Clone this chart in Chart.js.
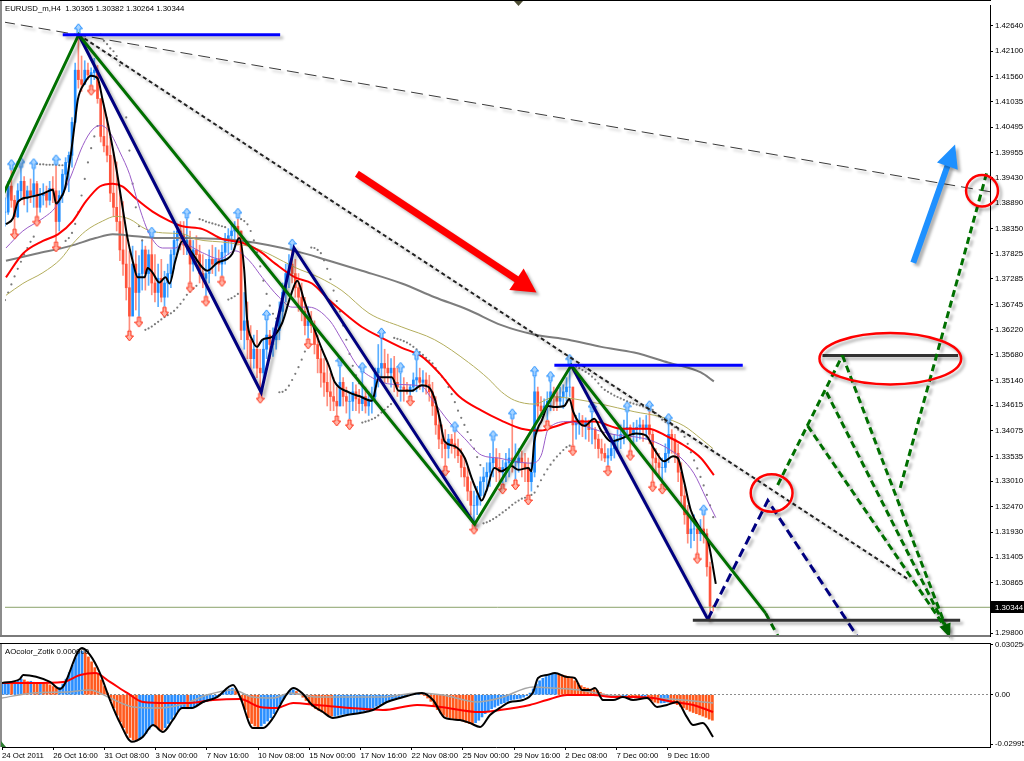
<!DOCTYPE html>
<html>
<head>
<meta charset="utf-8">
<title>EURUSD_m,H4</title>
<script src="https://cdn.jsdelivr.net/npm/chart.js@4.4.1/dist/chart.umd.min.js"></script>
<style>
html,body{margin:0;padding:0;background:#ffffff;overflow:hidden;}
#main{position:absolute;left:0;top:0;}
#osc{position:absolute;left:0;top:638px;}
</style>
</head>
<body>
<canvas id="main" width="1024" height="641"></canvas>
<canvas id="osc" width="1024" height="123"></canvas>
<script>
const FONT = '"Liberation Sans", Arial, sans-serif';
const FSIZE = 7.8;

// ---------- text / axes ----------
const symbolName = 'EURUSD_m,H4';
const lastOHLC = [1.30365, 1.30382, 1.30264, 1.30344];
const indicatorName = 'AOcolor_Zotik';
const indicatorValue = '0.000000';
const xLabelIdx = [0,16,32,48,64,80,96,112,128,144,160,176,192,208];
const xLabels = ['24 Oct 2011','26 Oct 16:00','31 Oct 08:00','3 Nov 00:00','7 Nov 16:00','10 Nov 08:00','15 Nov 00:00','17 Nov 16:00','22 Nov 08:00','25 Nov 00:00','29 Nov 16:00','2 Dec 08:00','7 Dec 00:00','9 Dec 16:00'];
const priceTicks = [1.42640,1.42100,1.41560,1.41035,1.40495,1.39955,1.39430,1.38890,1.38350,1.37825,1.37285,1.36745,1.36220,1.35680,1.35140,1.34615,1.34075,1.33535,1.33010,1.32470,1.31930,1.31405,1.30865,1.29800];
const oscTicks = [0.030256, 0, -0.02995];
const oscTickLabels = ['0.030256','0.00','-0.02995'];
const priceMin = 1.29737, priceMax = 1.43078;
const oscMin = -0.031774, oscMax = 0.031472;
const barMin = 0, barMax = 308.75;

// ---------- H4 bars (index 0 = 24 Oct 2011 00:00) ----------
const highs = [
1.3900,1.3935,1.3958,1.3905,1.3930,1.3962,1.3945,1.3925,1.3940,1.3960,
1.3935,1.3920,1.3930,1.3925,1.3935,1.3945,1.3968,1.3915,1.3960,1.3985,
1.3997,1.4070,1.4185,1.4245,1.4200,1.4190,1.4185,1.4175,1.4195,1.4180,
1.4101,1.4091,1.4070,1.4028,1.3997,1.3976,1.3913,1.3892,1.3819,1.3788,
1.3798,1.3788,1.3778,1.3809,1.3798,1.3790,1.3815,1.3780,1.3760,1.3770,
1.3745,1.3760,1.3790,1.3830,1.3845,1.3850,1.3850,1.3855,1.3830,1.3810,
1.3820,1.3800,1.3780,1.3770,1.3790,1.3800,1.3795,1.3790,1.3800,1.3825,
1.3835,1.3845,1.3850,1.3855,1.3830,1.3700,1.3680,1.3630,1.3610,1.3620,
1.3580,1.3600,1.3640,1.3620,1.3625,1.3640,1.3680,1.3720,1.3760,1.3780,
1.3790,1.3770,1.3740,1.3720,1.3690,1.3670,1.3660,1.3640,1.3610,1.3580,
1.3560,1.3550,1.3530,1.3520,1.3500,1.3542,1.3520,1.3500,1.3490,1.3510,
1.3505,1.3495,1.3529,1.3500,1.3490,1.3500,1.3540,1.3590,1.3602,1.3580,
1.3570,1.3560,1.3565,1.3540,1.3529,1.3520,1.3510,1.3505,1.3530,1.3556,
1.3540,1.3535,1.3530,1.3525,1.3510,1.3480,1.3440,1.3420,1.3410,1.3400,
1.3400,1.3404,1.3390,1.3370,1.3350,1.3330,1.3300,1.3280,1.3290,1.3310,
1.3330,1.3340,1.3360,1.3385,1.3370,1.3360,1.3345,1.3360,1.3370,1.3431,
1.3380,1.3370,1.3365,1.3360,1.3350,1.3340,1.3521,1.3500,1.3480,1.3475,
1.3490,1.3510,1.3500,1.3495,1.3500,1.3505,1.3520,1.3546,1.3500,1.3440,
1.3445,1.3440,1.3435,1.3430,1.3445,1.3415,1.3400,1.3390,1.3380,1.3370,
1.3385,1.3400,1.3410,1.3420,1.3430,1.3446,1.3420,1.3425,1.3430,1.3435,
1.3430,1.3440,1.3448,1.3410,1.3370,1.3360,1.3350,1.3380,1.3421,1.3410,
1.3400,1.3380,1.3340,1.3290,1.3250,1.3220,1.3230,1.3210,1.3220,1.3228,
1.3200,1.3130,1.30382];
const lows = [
1.3840,1.3865,1.3880,1.3836,1.3858,1.3900,1.3885,1.3870,1.3890,1.3880,
1.3863,1.3870,1.3885,1.3880,1.3885,1.3890,1.3809,1.3830,1.3890,1.3920,
1.3913,1.3965,1.4059,1.4132,1.4125,1.4150,1.4150,1.4140,1.4150,1.4100,
1.4018,1.3997,1.3976,1.3892,1.3861,1.3830,1.3767,1.3736,1.3684,1.3621,
1.3684,1.3663,1.3650,1.3705,1.3705,1.3715,1.3695,1.3680,1.3670,1.3680,
1.3671,1.3690,1.3710,1.3750,1.3780,1.3790,1.3780,1.3780,1.3723,1.3745,
1.3760,1.3720,1.3710,1.3694,1.3720,1.3740,1.3735,1.3745,1.3736,1.3760,
1.3780,1.3790,1.3790,1.3800,1.3600,1.3580,1.3560,1.3530,1.3540,1.3520,
1.3489,1.3510,1.3560,1.3560,1.3565,1.3580,1.3600,1.3640,1.3680,1.3710,
1.3720,1.3690,1.3660,1.3640,1.3610,1.3604,1.3615,1.3570,1.3530,1.3500,
1.3480,1.3460,1.3450,1.3450,1.3441,1.3460,1.3460,1.3445,1.3433,1.3450,
1.3450,1.3445,1.3450,1.3445,1.3440,1.3445,1.3470,1.3500,1.3520,1.3510,
1.3510,1.3500,1.3490,1.3480,1.3470,1.3470,1.3485,1.3483,1.3490,1.3490,
1.3495,1.3490,1.3485,1.3470,1.3440,1.3400,1.3370,1.3350,1.3335,1.3350,
1.3360,1.3350,1.3340,1.3310,1.3290,1.3260,1.3230,1.3212,1.3230,1.3250,
1.3270,1.3280,1.3290,1.3310,1.3300,1.3300,1.3297,1.3300,1.3310,1.3320,
1.3306,1.3320,1.3310,1.3300,1.3274,1.3280,1.3310,1.3430,1.3440,1.3445,
1.3431,1.3450,1.3450,1.3450,1.3460,1.3455,1.3470,1.3480,1.3378,1.3390,
1.3400,1.3395,1.3390,1.3385,1.3380,1.3370,1.3350,1.3345,1.3342,1.3335,
1.3345,1.3350,1.3360,1.3370,1.3380,1.3390,1.3368,1.3380,1.3385,1.3390,
1.3385,1.3390,1.3380,1.3302,1.3320,1.3310,1.3297,1.3320,1.3340,1.3360,
1.3340,1.3300,1.3250,1.3210,1.3170,1.3160,1.3175,1.3150,1.3175,1.3170,
1.3100,1.3005,1.30264];
const closes = [
1.3870,1.3925,1.3895,1.3860,1.3915,1.3935,1.3900,1.3915,1.3905,1.3930,
1.3880,1.3905,1.3910,1.3895,1.3920,1.3915,1.3850,1.3905,1.3950,1.3975,
1.3990,1.4060,1.4170,1.4150,1.4140,1.4170,1.4160,1.4165,1.4170,1.4110,
1.4030,1.4010,1.3990,1.3910,1.3880,1.3850,1.3790,1.3760,1.3710,1.3650,
1.3760,1.3700,1.3740,1.3790,1.3740,1.3780,1.3720,1.3700,1.3730,1.3690,
1.3720,1.3740,1.3780,1.3810,1.3830,1.3820,1.3800,1.3810,1.3760,1.3790,
1.3780,1.3740,1.3730,1.3740,1.3770,1.3760,1.3770,1.3760,1.3785,1.3810,
1.3820,1.3830,1.3840,1.3830,1.3620,1.3640,1.3600,1.3560,1.3580,1.3540,
1.3530,1.3580,1.3610,1.3590,1.3600,1.3620,1.3660,1.3700,1.3740,1.3760,
1.3740,1.3710,1.3690,1.3660,1.3630,1.3640,1.3630,1.3590,1.3560,1.3530,
1.3510,1.3490,1.3480,1.3470,1.3460,1.3510,1.3480,1.3470,1.3470,1.3490,
1.3475,1.3465,1.3480,1.3460,1.3470,1.3480,1.3530,1.3540,1.3550,1.3540,
1.3530,1.3540,1.3510,1.3500,1.3500,1.3495,1.3490,1.3500,1.3515,1.3520,
1.3510,1.3515,1.3505,1.3490,1.3460,1.3420,1.3390,1.3380,1.3370,1.3390,
1.3380,1.3370,1.3355,1.3330,1.3310,1.3280,1.3250,1.3250,1.3270,1.3300,
1.3310,1.3320,1.3340,1.3350,1.3330,1.3320,1.3330,1.3340,1.3350,1.3340,
1.3340,1.3350,1.3340,1.3330,1.3300,1.3320,1.3490,1.3460,1.3450,1.3460,
1.3470,1.3490,1.3480,1.3470,1.3480,1.3490,1.3500,1.3500,1.3420,1.3425,
1.3430,1.3420,1.3425,1.3410,1.3410,1.3390,1.3370,1.3360,1.3350,1.3355,
1.3370,1.3385,1.3390,1.3400,1.3410,1.3415,1.3400,1.3410,1.3415,1.3420,
1.3410,1.3420,1.3400,1.3350,1.3340,1.3330,1.3330,1.3360,1.3400,1.3390,
1.3360,1.3320,1.3270,1.3230,1.3190,1.3200,1.3200,1.3190,1.3200,1.3190,
1.3120,1.30365,1.30344];
// Parabolic SAR, one value per bar
const sar = [
1.3684,1.3700,1.3717,1.3734,1.3750,1.3765,1.3780,1.3794,1.3807,1.3818,
1.3972,1.3971,1.3971,1.3970,1.3970,1.3970,1.3970,1.3969,1.3969,
1.3809,1.3815,1.3826,1.3845,1.3870,1.3905,1.3940,1.3975,1.4005,1.4030,1.4052,
1.4245,1.4232,1.4225,1.4216,1.4210,1.4200,1.4180,1.4130,1.4070,1.4000,1.3930,1.3880,1.3840,1.3810,
1.3621,1.3624,1.3628,1.3633,1.3638,1.3643,1.3648,1.3652,1.3656,1.3661,1.3668,1.3676,1.3685,1.3695,
1.3702,1.3708,1.3714,
1.3855,1.3853,1.3850,1.3848,1.3846,1.3844,1.3842,1.3840,1.3838,
1.3685,1.3688,1.3692,1.3697,
1.3855,1.3851,1.3844,1.3830,1.3810,1.3785,1.3755,1.3725,1.3697,1.3672,1.3655,1.3645,
1.3489,1.3490,1.3494,1.3503,1.3515,1.3528,1.3542,1.3558,1.3575,1.3590,
1.3795,1.3794,1.3790,1.3783,1.3768,1.3750,1.3728,1.3704,1.3682,1.3660,1.3630,1.3600,1.3570,1.3545,1.3525,1.3508,
1.3425,1.3427,1.3429,1.3432,1.3435,1.3440,1.3446,1.3452,1.3458,1.3464,
1.3604,1.3602,1.3600,1.3597,1.3594,1.3590,1.3585,1.3580,1.3574,1.3568,1.3562,1.3556,1.3550,1.3540,
1.3530,1.3522,1.3515,1.3500,1.3485,1.3468,1.3450,1.3435,1.3420,1.3405,1.3388,1.3370,1.3352,1.3335,
1.3212,1.3214,1.3217,1.3221,1.3225,1.3230,1.3235,1.3240,1.3245,1.3251,1.3256,1.3260,1.3264,1.3266,
1.3268,1.3272,1.3277,1.3290,1.3303,1.3315,1.3326,1.3336,1.3345,1.3353,1.3360,1.3367,1.3373,1.3376,
1.3546,1.3543,1.3540,1.3536,1.3532,1.3528,1.3522,1.3516,1.3508,1.3500,1.3494,1.3490,
1.3486,1.3482,1.3479,1.3476,1.3473,1.3470,1.3467,1.3465,1.3463,1.3461,1.3459,1.3457,1.3455,
1.3452,1.3445,1.3438,1.3431,1.3426,1.3424,1.3420,1.3415,1.3410,1.3405,1.3395,1.3380,1.3362,1.3345,1.3328,1.3310,1.3292,1.3272,1.3250,1.3225];

// fractal bars
const upFractals = [2,5,9,16,23,46,57,73,82,90,105,112,118,124,129,141,153,159,166,171,177,184,195,202,208,219];
const downFractals = [3,10,16,27,39,42,50,58,63,68,80,95,104,108,127,138,147,156,160,164,170,178,189,196,203,206,217];

// ---------- moving averages (bar index, price) ----------
const maGrayIdx = [0.3,9.7,20.3,28.4,33.75,40.9,49.4,55.6,74.4,90.9,101.6,111.9,124.4,134.7,145.3,155.6,165.9,176.6,186.9,197.2,207.8,218.1,222.2];
const maGray = [1.3767,1.3782,1.3798,1.3815,1.3823,1.3819,1.3815,1.3815,1.3809,1.3788,1.3767,1.3746,1.3719,1.3690,1.3663,1.3631,1.3611,1.3600,1.3585,1.3573,1.3552,1.3531,1.3512];
const maOliveIdx = [0.3,5.6,11.9,17.5,21.25,25.3,30.6,34.7,39.1,44.1,49.4,55.6,59.7,70.3,78.4,83.75,90.9,98.4,105.6,114.1,124.4,134.7,145.3,151.6,155.6,159.7,165.9,172.2,178.4,186.9,197.2,205.6,212.8,218.1,221.9];
const maOlive = [1.3694,1.3719,1.3742,1.3771,1.3803,1.3830,1.3851,1.3861,1.3855,1.3834,1.3826,1.3824,1.3813,1.3805,1.3794,1.3778,1.3753,1.3732,1.3704,1.3656,1.3627,1.3600,1.3552,1.3517,1.3490,1.3472,1.3464,1.3479,1.3475,1.3464,1.3448,1.3437,1.3418,1.3391,1.3370];
const maRedIdx = [0.3,5.6,11.9,16.6,21.25,25.3,29.7,33.75,36.9,40.9,46.25,51.6,55.6,61.9,68.1,74.4,79.7,84.7,90.9,96.25,101.6,107.8,111.9,118.1,124.4,130.6,135.9,142.2,149.4,155.6,161.9,168.1,172.2,178.4,184.7,193.1,201.6,207.8,212.8,218.1,222.2];
const maRed = [1.3732,1.3782,1.3809,1.3823,1.3851,1.3892,1.3924,1.3930,1.3924,1.3899,1.3871,1.3851,1.3840,1.3834,1.3813,1.3805,1.3788,1.3761,1.3732,1.3719,1.3684,1.3648,1.3627,1.3604,1.3583,1.3565,1.3531,1.3481,1.3450,1.3429,1.3412,1.3408,1.3416,1.3427,1.3427,1.3412,1.3412,1.3395,1.3377,1.3350,1.3314];
const maPurpleIdx = [0.3,5.6,11.9,16,20.3,24.4,27.5,30,32.8,36,39.1,42.2,45.3,49.4,53.4,55.6,61.9,67.2,72.2,76.6,80.6,85.9,90,95.3,101.6,106,110.5,115.9,121.25,130.6,133.75,139.1,144.1,149.4,154.7,159.7,165,168.1,170.3,176.6,181.6,186.9,192.2,197.2,202.5,207.8,211.9,215.9,219.7,222.8];
const maPurple = [1.3794,1.3830,1.3857,1.3882,1.3940,1.4011,1.4045,1.4053,1.4039,1.3997,1.3949,1.3878,1.3823,1.3794,1.3794,1.3803,1.3784,1.3771,1.3788,1.3767,1.3732,1.3690,1.3669,1.3669,1.3642,1.3595,1.3545,1.3517,1.3506,1.3502,1.3475,1.3427,1.3391,1.3356,1.3350,1.3343,1.3339,1.3356,1.3412,1.3427,1.3418,1.3406,1.3398,1.3395,1.3387,1.3370,1.3350,1.3318,1.3266,1.3224];
const maBlackIdx = [0.3,2.5,4.1,7.2,11.9,15,16,17.2,18.75,20.3,21.9,22.8,25,26.9,29,30.6,32.8,34.7,36.9,38.4,40,41.6,43.75,44.7,46.25,48.4,50.3,51.6,53.4,55.6,58.75,63.4,66.6,69.7,71.25,73.4,75,75.9,77.5,79,80.6,83.75,86.9,89.4,91.6,93.75,96.25,99.4,101.6,103.4,107.8,111,115,117.2,121.25,123.4,127.5,130.6,132.8,134.7,136.25,137.8,140.9,144.1,146.25,148.4,149.4,150.9,153.4,155.6,158.75,160.9,164,165,165.9,167.2,168.1,170.3,172.2,175.3,176.9,178.1,179.7,181.6,184.7,186.9,190,193.1,197.8,200.9,203.4,206.6,209.4,210.9,212.8,215,218.1,220.3,222.8];
const maBlack = [1.3844,1.3857,1.3892,1.3901,1.3909,1.3917,1.3888,1.3897,1.3919,1.3976,1.4059,1.4107,1.4143,1.4158,1.4153,1.4107,1.4039,1.3970,1.3878,1.3815,1.3767,1.3732,1.3732,1.3752,1.3742,1.3721,1.3732,1.3719,1.3767,1.3809,1.3782,1.3746,1.3763,1.3771,1.3782,1.3815,1.3746,1.3642,1.3600,1.3585,1.3600,1.3606,1.3636,1.3690,1.3725,1.3684,1.3636,1.3579,1.3544,1.3510,1.3489,1.3481,1.3471,1.3521,1.3521,1.3492,1.3492,1.3504,1.3500,1.3475,1.3433,1.3385,1.3375,1.3350,1.3308,1.3272,1.3260,1.3281,1.3329,1.3322,1.3333,1.3325,1.3329,1.3322,1.3385,1.3416,1.3427,1.3460,1.3458,1.3460,1.3475,1.3448,1.3427,1.3418,1.3433,1.3408,1.3385,1.3391,1.3402,1.3398,1.3370,1.3343,1.3354,1.3350,1.3302,1.3239,1.3199,1.3176,1.3084];

// ---------- drawn objects (bar index, price) ----------
const greenZigIdx = [-0.6, 23.1, 147.2, 177.5, 238.4];
const greenZig = [1.3907, 1.4245, 1.3210, 1.3546, 1.3022];
const greenTailIdx = [238.4, 243.1];
const greenTail = [1.3022, 1.2963];
const navyZigIdx = [23.1, 80.3, 90.6, 147.2];
const navyZig = [1.4245, 1.3489, 1.3794, 1.3210];
const navyLegIdx = [177.5, 220.3];
const navyLeg = [1.3546, 1.3009];
const navyProjIdx = [220.3, 239.1, 268.1];
const navyProj = [1.3009, 1.3260, 1.2963];
const topLevelIdx = [18.1, 86.25];
const topLevel = [1.4245, 1.4245];
const midLevelIdx = [172.2, 231.25];
const midLevel = [1.3546, 1.3546];
const targetHighIdx = [256.25, 298.75];
const targetHigh = [1.3567, 1.3567];
const targetLowIdx = [215.6, 299.4];
const targetLow = [1.3007, 1.3007];
const longTrendIdx = [-0.6, 308.75];
const longTrend = [1.4272, 1.3913];
const shortTrendIdx = [23.1, 282.8];
const shortTrend = [1.4245, 1.3095];
const projAIdx = [242.2, 262.5];   const projA = [1.3293, 1.3567];
const projBIdx = [262.5, 295.3];   const projB = [1.3567, 1.2986];
const projCIdx = [257.5, 295.3];   const projC = [1.3489, 1.2986];
const projDIdx = [251.6, 295.3];   const projD = [1.3418, 1.2986];
const projEIdx = [280.6, 307.8];   const projE = [1.3287, 1.3955];
const bidLineIdx = [0, 308.75];
const redArrowIdx = [110.3, 166.6];  const redArrow = [1.3951, 1.3700];
const blueArrowIdx = [284.7, 297.8]; const blueArrow = [1.3763, 1.4013];
const ellipseIdx = [240.3, 277.5, 306.25];
const ellipsePrice = [1.3276, 1.3560, 1.3915];
const ellipseHalfBars = [6.56, 22.2, 5.0];
const ellipseHalfPrice = [0.00397, 0.00543, 0.00334];

// ---------- oscillator ----------
const aoHist = [
0.0065,0.0070,0.0072,0.0070,0.0075,0.0085,0.0095,0.0090,0.0080,0.0082,
0.0076,0.0072,0.0074,0.0070,0.0066,0.0060,0.0050,0.0040,0.0045,0.0065,
0.0095,0.0135,0.0180,0.0225,0.0255,0.0265,0.0255,0.0230,0.0200,0.0165,
0.0130,0.0090,0.0050,0.0010,-0.0035,-0.0080,-0.0125,-0.0165,-0.0200,-0.0235,
-0.0260,-0.0275,-0.0280,-0.0270,-0.0250,-0.0235,-0.0210,-0.0190,-0.0195,-0.0210,
-0.0215,-0.0200,-0.0175,-0.0150,-0.0125,-0.0100,-0.0085,-0.0080,-0.0085,-0.0085,
-0.0075,-0.0065,-0.0050,-0.0045,-0.0040,-0.0032,-0.0025,-0.0015,-0.0005,0.0010,
0.0025,0.0035,0.0040,0.0030,0.0005,-0.0040,-0.0090,-0.0140,-0.0175,-0.0190,
-0.0195,-0.0190,-0.0175,-0.0160,-0.0140,-0.0115,-0.0085,-0.0055,-0.0025,0.0005,
0.0025,0.0030,0.0020,0.0005,-0.0015,-0.0035,-0.0055,-0.0070,-0.0085,-0.0095,
-0.0105,-0.0115,-0.0125,-0.0130,-0.0130,-0.0125,-0.0120,-0.0118,-0.0115,-0.0112,
-0.0110,-0.0108,-0.0105,-0.0100,-0.0095,-0.0090,-0.0080,-0.0070,-0.0060,-0.0050,
-0.0042,-0.0035,-0.0030,-0.0024,-0.0018,-0.0012,-0.0006,-0.0002,0.0002,0.0006,
0.0008,0.0005,-0.0005,-0.0020,-0.0040,-0.0065,-0.0090,-0.0110,-0.0125,-0.0135,
-0.0140,-0.0145,-0.0150,-0.0155,-0.0160,-0.0168,-0.0175,-0.0180,-0.0170,-0.0155,
-0.0135,-0.0115,-0.0100,-0.0085,-0.0075,-0.0065,-0.0055,-0.0048,-0.0040,-0.0032,
-0.0028,-0.0025,-0.0022,-0.0015,-0.0005,0.0010,0.0035,0.0065,0.0085,0.0100,
0.0110,0.0120,0.0125,0.0128,0.0125,0.0120,0.0115,0.0110,0.0100,0.0085,
0.0070,0.0055,0.0045,0.0040,0.0035,0.0032,0.0025,0.0015,0.0005,-0.0005,
-0.0010,-0.0014,-0.0016,-0.0018,-0.0015,-0.0012,-0.0015,-0.0018,-0.0020,-0.0022,
-0.0020,-0.0018,-0.0025,-0.0035,-0.0045,-0.0050,-0.0050,-0.0048,-0.0045,-0.0048,
-0.0052,-0.0060,-0.0070,-0.0080,-0.0090,-0.0100,-0.0108,-0.0115,-0.0122,-0.0130,
-0.0138,-0.0148,-0.0155];
const oscBlackIdx = [0,5.6,6.6,15,18.1,25,27.5,30.6,33.75,36.9,40.6,44,47.2,50.3,53.4,56.25,59.4,62.8,67.2,72.2,74.4,78.4,81.6,84.7,88.4,91,93.75,96.9,100.3,103.4,107.8,111.9,115.9,120.3,124.4,131.25,134.7,138.4,143.1,146.25,149.4,152.5,155.6,158.75,162.8,166,167.5,170.3,172.8,176.6,179,181.25,183.75,185.3,187.8,191,194,197.2,201.6,204.7,207.8,211,214,216,219,222.2];
const oscBlack = [0.0071,0.0096,0.0120,0.0078,0.0035,0.0284,0.0242,0.0132,-0.0032,-0.0172,-0.0286,-0.0256,-0.0184,-0.0226,-0.0153,-0.0080,-0.0080,-0.0044,-0.0014,0.0059,-0.0014,-0.0202,-0.0202,-0.0141,-0.0014,0.0041,0.0011,-0.0062,-0.0105,-0.0141,-0.0123,-0.0111,-0.0093,-0.0044,-0.0020,0.0011,-0.0032,-0.0141,-0.0153,-0.0172,-0.0196,-0.0123,-0.0080,-0.0044,-0.0032,0.0017,0.0102,0.0120,0.0132,0.0108,0.0102,0.0029,0.0029,0.0041,-0.0032,-0.0032,-0.0014,-0.0032,-0.0020,-0.0074,-0.0062,-0.0044,-0.0135,-0.0184,-0.0172,-0.0257];
const oscRedIdx = [0,9.7,19.1,24.4,29.1,33.75,39.1,44.1,51.6,57.8,65.9,74.4,80.6,85.9,91,98.4,108.75,119,129.7,136.9,149.4,155.6,165,170.3,176.6,184.7,191,197.2,203.4,209.7,216,222.2];
const oscRed = [0.0071,0.0071,0.0078,0.0120,0.0132,0.0078,0.0011,-0.0044,-0.0050,-0.0050,-0.0032,-0.0026,-0.0074,-0.0080,-0.0050,-0.0062,-0.0080,-0.0093,-0.0062,-0.0074,-0.0105,-0.0093,-0.0062,-0.0032,-0.0002,-0.0002,-0.0014,-0.0014,-0.0020,-0.0044,-0.0062,-0.0105];
const oscGrayIdx = [0,9.7,20.3,27.5,33.75,41,49.4,57.8,64,72.2,78.4,84.7,90,98.4,108.75,119,129.7,137.8,148.4,155.6,166,172.2,180.6,189,197.2,203.4,212.8,222.2];
const oscGray = [-0.0020,0.0011,0.0017,0.0029,-0.0020,-0.0074,-0.0080,-0.0050,-0.0002,0.0029,-0.0014,-0.0020,0.0011,-0.0014,-0.0014,-0.0014,0.0011,-0.0002,-0.0044,-0.0020,0.0047,0.0041,0.0029,-0.0002,-0.0014,-0.0020,-0.0032,-0.0050];

// ================= building =================
Chart.defaults.font.family = FONT;
Chart.defaults.font.size = FSIZE;
const pts = (xs, ys) => xs.map((v, i) => ({x: v, y: ys[i]}));
const opens = closes.map((c, i) => i === 0 ? c : closes[i - 1]);
const isUp = closes.map((c, i) => c >= opens[i]);

function makeArrowImg(up) {
  const c = document.createElement('canvas');
  c.width = 9; c.height = 24;
  const g = c.getContext('2d');
  g.fillStyle = up ? '#a8d4ff' : '#ffb4a6';
  g.strokeStyle = up ? '#1e8cff' : '#ff2a10';
  g.lineWidth = 1;
  g.beginPath();
  if (up) {
    g.moveTo(4.5, 1); g.lineTo(8.5, 6); g.lineTo(6, 6); g.lineTo(6, 11);
    g.lineTo(3, 11); g.lineTo(3, 6); g.lineTo(0.5, 6); g.closePath();
  } else {
    g.moveTo(4.5, 23); g.lineTo(8.5, 18); g.lineTo(6, 18); g.lineTo(6, 13);
    g.lineTo(3, 13); g.lineTo(3, 18); g.lineTo(0.5, 18); g.closePath();
  }
  g.fill(); g.stroke();
  return c;
}
const upImg = makeArrowImg(true), downImg = makeArrowImg(false);

function lineDS(xs, ys, color, width, order, extra) {
  return Object.assign({type: 'line', data: pts(xs, ys), borderColor: color, borderWidth: width,
    pointRadius: 0, fill: false, tension: 0, order: order}, extra || {});
}
const smooth = {cubicInterpolationMode: 'monotone'};

const shadowPlugin = {
  id: 'objShadow',
  beforeDatasetDraw(chart, args) {
    const ds = chart.data.datasets[args.index];
    if (ds.shadow) {
      const c = chart.ctx; c.save();
      c.shadowColor = 'rgba(0,0,0,0.28)'; c.shadowBlur = 3; c.shadowOffsetX = 3; c.shadowOffsetY = 3;
    }
  },
  afterDatasetDraw(chart, args) {
    const ds = chart.data.datasets[args.index];
    if (ds.shadow) chart.ctx.restore();
  }
};

function drawArrow(ctx, xs, ys, ix, py, color, w, hl, hw) {
  const x0 = xs.getPixelForValue(ix[0]), y0 = ys.getPixelForValue(py[0]);
  const x1 = xs.getPixelForValue(ix[1]), y1 = ys.getPixelForValue(py[1]);
  const dx = x1 - x0, dy = y1 - y0, L = Math.hypot(dx, dy), ux = dx / L, uy = dy / L;
  const bx = x1 - ux * hl, by = y1 - uy * hl;
  ctx.strokeStyle = color; ctx.lineWidth = w; ctx.lineCap = 'butt';
  ctx.beginPath(); ctx.moveTo(x0, y0); ctx.lineTo(bx + ux * 2, by + uy * 2); ctx.stroke();
  ctx.fillStyle = color;
  ctx.beginPath(); ctx.moveTo(x1, y1);
  ctx.lineTo(bx - uy * hw, by + ux * hw); ctx.lineTo(bx + uy * hw, by - ux * hw);
  ctx.closePath(); ctx.fill();
}

const mainDeco = {
  id: 'mainDeco',
  afterDatasetsDraw(chart) {
    const {ctx, scales: {x, y}} = chart;
    ctx.save();
    ctx.shadowColor = 'rgba(0,0,0,0.3)'; ctx.shadowBlur = 3; ctx.shadowOffsetX = 3; ctx.shadowOffsetY = 3;
    {
      const x0 = x.getPixelForValue(projBIdx[0]), y0 = y.getPixelForValue(projB[0]);
      const x1 = x.getPixelForValue(projBIdx[1]), y1 = y.getPixelForValue(projB[1]);
      const L = Math.hypot(x1 - x0, y1 - y0), ux = (x1 - x0) / L, uy = (y1 - y0) / L;
      const tx = x1 + ux * 8, ty = y1 + uy * 8, bx = x1 - ux * 6, by = y1 - uy * 6;
      ctx.fillStyle = '#006400';
      ctx.beginPath(); ctx.moveTo(tx, ty);
      ctx.lineTo(bx - uy * 6, by + ux * 6); ctx.lineTo(bx + uy * 6, by - ux * 6); ctx.closePath(); ctx.fill();
    }
    drawArrow(ctx, x, y, redArrowIdx, redArrow, '#ff0000', 7, 24, 13);
    drawArrow(ctx, x, y, blueArrowIdx, blueArrow, '#1e90ff', 6, 23, 11);
    ctx.strokeStyle = '#ff0000'; ctx.lineWidth = 2.5;
    for (let k = 0; k < ellipseIdx.length; k++) {
      const cx = x.getPixelForValue(ellipseIdx[k]), cy = y.getPixelForValue(ellipsePrice[k]);
      const rx = Math.abs(x.getPixelForValue(ellipseIdx[k] + ellipseHalfBars[k]) - cx);
      const ry = Math.abs(y.getPixelForValue(ellipsePrice[k] + ellipseHalfPrice[k]) - cy);
      ctx.beginPath(); ctx.ellipse(cx, cy, rx, ry, 0, 0, Math.PI * 2); ctx.stroke();
    }
    ctx.restore();
  },
  afterDraw(chart) {
    const {ctx, chartArea: a, scales: {y}} = chart;
    ctx.save();
    ctx.fillStyle = '#8c8c8c'; ctx.fillRect(0, 0, 2, a.bottom + 1);
    ctx.fillStyle = '#7a7a7a'; ctx.fillRect(0, a.bottom - 1, a.right, 2);
    ctx.fillStyle = '#000'; ctx.fillRect(0, 0, a.right + 1, 1);
    ctx.fillStyle = '#4d4d33';
    ctx.beginPath(); ctx.moveTo(514, 1); ctx.lineTo(523, 1); ctx.lineTo(518.5, 6); ctx.closePath(); ctx.fill();
    ctx.font = FSIZE + 'px ' + FONT; ctx.fillStyle = '#000'; ctx.textBaseline = 'alphabetic'; ctx.textAlign = 'left';
    ctx.fillText(symbolName + '  ' + lastOHLC.map(v => v.toFixed(5)).join(' '), 5, 11);
    const last = lastOHLC[3];
    const py = Math.round(y.getPixelForValue(last));
    ctx.fillStyle = '#000'; ctx.fillRect(991, py - 6, 33, 12);
    ctx.fillStyle = '#fff'; ctx.textBaseline = 'middle';
    ctx.fillText(last.toFixed(5), 995, py + 0.5);
    ctx.restore();
  }
};

const mainDatasets = [
  {type: 'bar', data: highs.map((h, i) => ({x: i, y: [lows[i], h]})),
    backgroundColor: isUp.map(u => u ? '#5aaeff' : '#ff8d7c'), barThickness: 1, grouped: false, order: 100},
  {type: 'bar', data: closes.map((c, i) => ({x: i, y: [opens[i], c]})),
    backgroundColor: isUp.map(u => u ? '#1e8cff' : '#ff523a'), barThickness: 2, grouped: false, order: 99},
  {type: 'line', data: sar.map((v, i) => ({x: i, y: v})), showLine: false,
    pointStyle: 'circle', pointRadius: 1.1, pointBackgroundColor: '#7a7a7a', pointBorderWidth: 0, order: 95},
  lineDS(bidLineIdx, [lastOHLC[3], lastOHLC[3]], '#8aa36a', 1, 90),
  lineDS(maGrayIdx, maGray, '#7d7d7d', 2, 80, smooth),
  lineDS(maOliveIdx, maOlive, '#b3ad5c', 1, 79, smooth),
  lineDS(maRedIdx, maRed, '#ff0000', 2, 78, smooth),
  lineDS(maPurpleIdx, maPurple, '#9a5cc8', 1, 77, smooth),
  lineDS(maBlackIdx, maBlack, '#000000', 2, 76, smooth),
  {type: 'line', data: upFractals.map(i => ({x: i, y: highs[i]})), showLine: false,
    pointStyle: upImg, pointRadius: 4, order: 70},
  {type: 'line', data: downFractals.map(i => ({x: i, y: lows[i]})), showLine: false,
    pointStyle: downImg, pointRadius: 4, order: 70},
  lineDS(longTrendIdx, longTrend, '#3a3a3a', 1, 30, {borderDash: [12, 6], shadow: true}),
  lineDS(shortTrendIdx, shortTrend, '#222222', 2, 29, {borderDash: [4, 3], shadow: true}),
  lineDS(navyZigIdx, navyZig, '#000080', 3, 20, {shadow: true}),
  lineDS(navyLegIdx, navyLeg, '#000080', 3, 20, {shadow: true}),
  lineDS(navyProjIdx, navyProj, '#000080', 3, 20, {borderDash: [9, 5], shadow: true}),
  lineDS(greenZigIdx, greenZig, '#007000', 3, 19, {shadow: true}),
  lineDS(greenTailIdx, greenTail, '#007000', 3, 19, {borderDash: [7, 5], shadow: true}),
  lineDS(topLevelIdx, topLevel, '#0000ff', 3, 18, {shadow: true}),
  lineDS(midLevelIdx, midLevel, '#0000ff', 3, 18, {shadow: true}),
  lineDS(targetHighIdx, targetHigh, '#333333', 3, 17, {shadow: true}),
  lineDS(targetLowIdx, targetLow, '#333333', 3, 17, {shadow: true}),
  lineDS(projAIdx, projA, '#007000', 3, 16, {borderDash: [7, 4], shadow: true}),
  lineDS(projBIdx, projB, '#007000', 3, 16, {borderDash: [7, 4], shadow: true}),
  lineDS(projCIdx, projC, '#007000', 3, 16, {borderDash: [7, 4], shadow: true}),
  lineDS(projDIdx, projD, '#007000', 3, 16, {borderDash: [7, 4], shadow: true}),
  lineDS(projEIdx, projE, '#007000', 3, 16, {borderDash: [7, 4], shadow: true})
];

new Chart(document.getElementById('main'), {
  type: 'bar',
  data: {datasets: mainDatasets},
  plugins: [shadowPlugin, mainDeco],
  options: {
    responsive: false, animation: false, devicePixelRatio: 1, events: [],
    layout: {padding: {left: 2, top: 1, right: 0, bottom: 1}},
    plugins: {legend: {display: false}, tooltip: {enabled: false}, title: {display: false}},
    scales: {
      x: {type: 'linear', min: barMin, max: barMax, offset: false, display: false, grid: {offset: false}},
      y: {type: 'linear', position: 'right', min: priceMin, max: priceMax,
        afterBuildTicks: s => { s.ticks = priceTicks.map(v => ({value: v})); },
        afterFit: s => { s.width = 34; s.paddingTop = 0; s.paddingBottom = 0; },
        ticks: {callback: v => Number(v).toFixed(5), color: '#000', padding: 2, autoSkip: false,
          font: {family: FONT, size: FSIZE}},
        grid: {drawOnChartArea: false, drawTicks: true, tickLength: 3, tickColor: '#000'},
        border: {display: true, color: '#000', width: 1}}
    }
  }
});

// ---------- oscillator panel ----------
const oscDeco = {
  id: 'oscDeco',
  afterDraw(chart) {
    const {ctx, chartArea: a} = chart;
    ctx.save();
    ctx.fillStyle = '#8c8c8c'; ctx.fillRect(0, a.top, 2, a.bottom - a.top);
    ctx.fillStyle = '#000'; ctx.fillRect(0, a.top, a.right, 1);
    ctx.fillStyle = '#2e7d32';
    ctx.beginPath(); ctx.moveTo(1, a.bottom); ctx.lineTo(1, a.bottom - 6); ctx.lineTo(6, a.bottom); ctx.closePath(); ctx.fill();
    ctx.font = FSIZE + 'px ' + FONT; ctx.fillStyle = '#000'; ctx.textBaseline = 'alphabetic';
    ctx.fillText(indicatorName + ' ' + indicatorValue, 5, a.top + 11);
    ctx.restore();
  }
};

new Chart(document.getElementById('osc'), {
  type: 'bar',
  data: {datasets: [
    {type: 'bar', data: aoHist.map((v, i) => ({x: i, y: v})),
      backgroundColor: aoHist.map((v, i) => (i > 0 && v < aoHist[i - 1]) ? '#ff5a1e' : '#2b8fff'),
      barThickness: 2, grouped: false, order: 10},
    lineDS(oscGrayIdx, oscGray, '#a6a6a6', 1.5, 3, smooth),
    lineDS(oscRedIdx, oscRed, '#ff0000', 2, 2, smooth),
    lineDS(oscBlackIdx, oscBlack, '#000000', 2, 1, smooth)
  ]},
  plugins: [oscDeco],
  options: {
    responsive: false, animation: false, devicePixelRatio: 1, events: [],
    layout: {padding: {left: 2, top: 5, right: 0, bottom: 0}},
    plugins: {legend: {display: false}, tooltip: {enabled: false}, title: {display: false}},
    scales: {
      x: {type: 'linear', min: barMin, max: barMax, offset: false, position: 'bottom',
        afterBuildTicks: s => { s.ticks = xLabelIdx.map(v => ({value: v})); },
        afterFit: s => { s.height = 14; s.paddingLeft = 0; s.paddingRight = 0; },
        ticks: {autoSkip: false, maxRotation: 0, minRotation: 0, align: 'start', padding: 1, color: '#000',
          font: {family: FONT, size: FSIZE},
          callback: v => { const k = xLabelIdx.indexOf(v); return k >= 0 ? xLabels[k] : ''; }},
        grid: {display: true, drawOnChartArea: false, drawTicks: true, tickLength: 3, tickColor: '#000', offset: false},
        border: {display: true, color: '#000'}},
      y: {type: 'linear', position: 'right', min: oscMin, max: oscMax,
        afterBuildTicks: s => { s.ticks = oscTicks.map(v => ({value: v})); },
        afterFit: s => { s.width = 34; s.paddingTop = 0; s.paddingBottom = 0; },
        ticks: {autoSkip: false, color: '#000', padding: 2, font: {family: FONT, size: FSIZE},
          callback: v => { const k = oscTicks.indexOf(v); return k >= 0 ? oscTickLabels[k] : ''; }},
        grid: {drawOnChartArea: true, drawTicks: true, tickLength: 3, tickColor: '#000',
          color: c => (c.tick && c.tick.value === 0) ? '#8c8c8c' : 'rgba(0,0,0,0)'},
        border: {display: true, color: '#000', dash: [2, 2]}}
    }
  }
});
</script>
</body>
</html>
